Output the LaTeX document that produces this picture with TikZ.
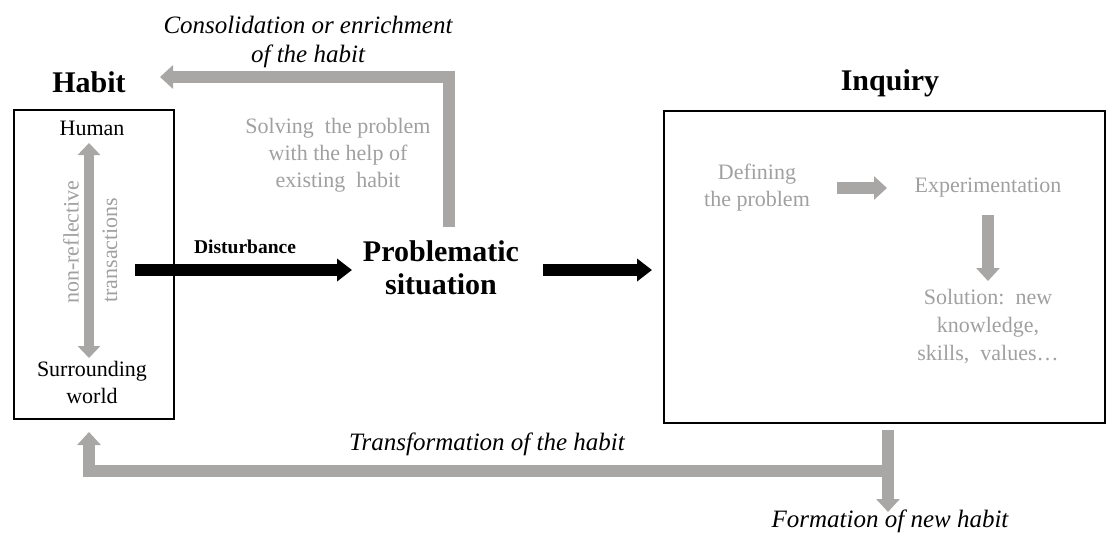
\documentclass[tikz,border=0pt]{standalone}
\usepackage{fontspec}
\setmainfont{Liberation Serif}
\usetikzlibrary{arrows.meta}
\definecolor{arrowgrey}{HTML}{A9A6A6}
\definecolor{textgrey}{HTML}{A0A0A0}
\begin{document}
\begin{tikzpicture}[x=1pt,y=-1pt,
  heading/.style={font=\fontsize{30}{33}\selectfont\bfseries, inner sep=0},
  body/.style={font=\fontsize{22}{27}\selectfont, align=center, inner sep=0},
  faint/.style={body, text=textgrey},
  caption/.style={font=\fontsize{25}{29}\selectfont\itshape, align=center, inner sep=0},
  framebox/.style={draw=black, line width=2pt, anchor=north west, inner sep=0},
  blackarrow/.style={draw=black, line width=12pt, -{Triangle[width=22pt,length=15pt]}},
  greyarrow/.style={draw=arrowgrey, line width=12pt, line join=miter, -{Triangle[width=23pt,length=13pt]}},
  twoway/.style={draw=arrowgrey, line width=10pt,
    {Triangle[width=22pt,length=12pt]}-{Triangle[width=22pt,length=12pt]}}
]
\useasboundingbox (0,0) rectangle (1109,533);

% Habit side
\node[heading] (habit) at (89,82) {Habit};
\node[framebox, minimum width=160pt, minimum height=309pt] (habitbox) at (13,109) {};
\node[body] (human) at (92,128) {Human};
\node[body] (world) at (92,382) {Surrounding\\world};
\coordinate (twotop) at (89,143);
\coordinate (twobot) at (89,358);
\draw[twoway] (twotop) -- (twobot);
\node[faint, rotate=90] (nonrefl) at (71,242) {non-reflective};
\node[faint, rotate=90] (trans) at (110,250) {transactions};

% Problematic situation
\node[font=\fontsize{19.5}{22}\selectfont\bfseries, inner sep=0] (disturb) at (245,247) {Disturbance};
\node[font=\fontsize{30}{33}\selectfont\bfseries, align=center, inner sep=0] (problem) at (441,268) {Problematic\\situation};
\coordinate (d1) at (135,270);
\coordinate (d2) at (352,270);
\draw[blackarrow] (d1) -- (d2);
\coordinate (p1) at (543,270);
\coordinate (p2) at (652,270);
\draw[blackarrow] (p1) -- (p2);

% Solving with an existing habit
\node[faint] (solving) at (338,155) {Solving\ \ the problem\\with the help of\\existing\ \ habit};
\node[caption] (consol) at (308,42) {Consolidation or enrichment\\of the habit};
\coordinate (s1) at (449,227);
\coordinate (s2) at (449,77);
\coordinate (s3) at (160,77);
\draw[greyarrow] (s1) -- (s2) -- (s3);

% Inquiry side
\node[heading] (inquiry) at (890,83) {Inquiry};
\node[framebox, minimum width=441pt, minimum height=312pt] (inqbox) at (663,110) {};
\node[faint] (defining) at (757,188) {Defining\\the problem};
\node[faint] (experiment) at (988,188) {Experimentation};
\node[faint, font=\fontsize{22}{28}\selectfont] (solution) at (988,327) {Solution:\ \ new\\knowledge,\\skills,\ \ values\ldots};
\coordinate (e1) at (837,188);
\coordinate (e2) at (887,188);
\draw[greyarrow] (e1) -- (e2);
\coordinate (x1) at (988,215);
\coordinate (x2) at (988,281);
\draw[greyarrow] (x1) -- (x2);

% Outcomes of inquiry
\coordinate (o1) at (888,430);
\coordinate (o2) at (888,512);
\coordinate (o3) at (89,471);
\coordinate (o4) at (89,432);
\draw[greyarrow] (o1) -- (o2);
\draw[greyarrow] (o1 |- o3) -- (o3) -- (o4);
\node[caption] (transform) at (487,444) {Transformation of the habit};
\node[caption] (formation) at (890,521) {Formation of new habit};
\end{tikzpicture}
\end{document}
